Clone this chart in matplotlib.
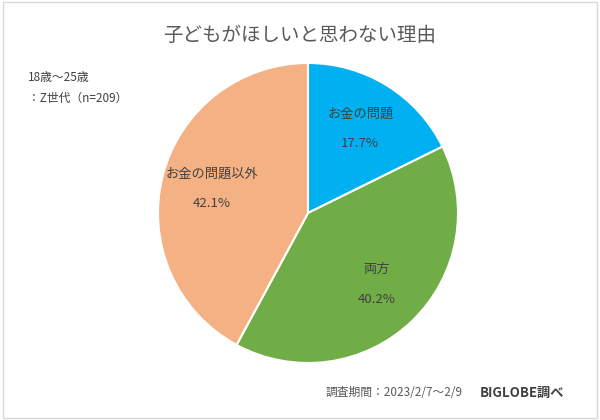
import matplotlib
matplotlib.use("Agg")
import matplotlib.pyplot as plt

categories = ["お金の問題", "両方", "お金の問題以外"]
values = [17.7, 40.2, 42.1]
colors = ["#00B0F0", "#70AD47", "#F4B183"]

plt.rcParams["font.family"] = "Noto Sans CJK JP"
fig = plt.figure(figsize=(6, 4.2), dpi=100)
fig.patch.set_facecolor("white")
fig.add_artist(plt.Rectangle((0.005, 0.005), 0.99, 0.99, transform=fig.transFigure,
                             fill=False, edgecolor="#d9d9d9", lw=1))

ax = fig.add_axes([158/600, 57/420, 300/600, 300/420])
labels_iter = iter(categories)
def fmt(p):
    return f"{next(labels_iter)}\n{p:.1f}%"
wedges, texts, autotexts = ax.pie(values, colors=colors, startangle=90, counterclock=False,
                                  autopct=fmt, pctdistance=0.66,
                                  wedgeprops=dict(edgecolor="white", linewidth=1.5, clip_on=False),
                                  textprops=dict(color="#404040", fontsize=9.5, linespacing=2.7))
for t in autotexts:
    t.set_horizontalalignment("center")
ax.set_xlim(-1, 1)
ax.set_ylim(-1, 1)
ax.set_aspect("equal")

fig.text(0.5, 1 - 35/420, "子どもがほしいと思わない理由", ha="center", va="center",
         fontsize=14, color="#595959")
fig.text(28/600, 1 - 78/420, "18歳～25歳", ha="left", va="center", fontsize=8.5, color="#404040")
fig.text(28/600, 1 - 98/420, "：Z世代（n=209）", ha="left", va="center", fontsize=8.5, color="#404040")
fig.text(463/600, 1 - 393/420, "調査期間：2023/2/7～2/9", ha="right", va="center",
         fontsize=8.5, color="#595959")
fig.text(480/600, 1 - 393/420, "BIGLOBE調べ", ha="left", va="center",
         fontsize=9.5, color="#404040", fontweight="bold")

fig.savefig("out.png", dpi=100, facecolor="white")
